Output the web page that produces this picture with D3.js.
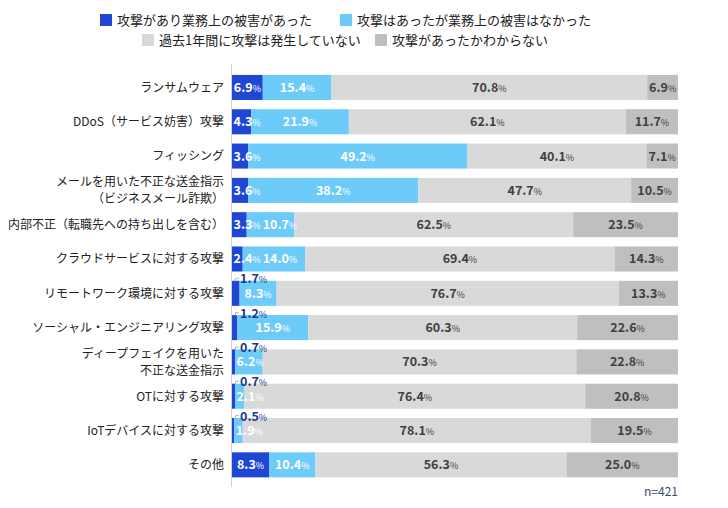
<!DOCTYPE html>
<html><head><meta charset="utf-8">
<script src="https://cdn.jsdelivr.net/npm/d3@7"></script>
<style>
body{margin:0;background:#fff;}
text{font-family:"Noto Sans CJK JP","Noto Sans",sans-serif;}
</style></head>
<body><svg id="c" width="728" height="508"></svg>
<script>
const categories = [
  ["ランサムウェア"],
  ["DDoS（サービス妨害）攻撃"],
  ["フィッシング"],
  ["メールを用いた不正な送金指示","（ビジネスメール詐欺）"],
  ["内部不正（転職先への持ち出しを含む）"],
  ["クラウドサービスに対する攻撃"],
  ["リモートワーク環境に対する攻撃"],
  ["ソーシャル・エンジニアリング攻撃"],
  ["ディープフェイクを用いた","不正な送金指示"],
  ["OTに対する攻撃"],
  ["IoTデバイスに対する攻撃"],
  ["その他"]
];
const seriesNames = ["攻撃があり業務上の被害があった","攻撃はあったが業務上の被害はなかった","過去1年間に攻撃は発生していない","攻撃があったかわからない"];
const damaged   = [6.9,4.3,3.6,3.6,3.3,2.4,1.7,1.2,0.7,0.7,0.5,8.3];
const noDamage  = [15.4,21.9,49.2,38.2,10.7,14.0,8.3,15.9,6.2,2.1,1.9,10.4];
const noAttack  = [70.8,62.1,40.1,47.7,62.5,69.4,76.7,60.3,70.3,76.4,78.1,56.3];
const unknown   = [6.9,11.7,7.1,10.5,23.5,14.3,13.3,22.6,22.8,20.8,19.5,25.0];
const sampleNote = "n=421";

const colors = ["#1f47d3","#6dcbfa","#d9d9d9","#bfbfbf"];
const labelColors = ["#ffffff","#ffffff","#404040","#404040"];
const series = [damaged,noDamage,noAttack,unknown];

const svg = d3.select("#c");
const keys = categories.map((c,i)=>i);
const y = d3.scaleBand().domain(keys).range([70.3,482]).paddingInner(0.27).paddingOuter(0.135);
const x = d3.scaleLinear().domain([0,100]).range([232,678]);

// legend
const legendPos = [[100,20],[340,20],[142,40],[375,40]];
const lg = svg.append("g");
seriesNames.forEach((n,i)=>{
  const [lx,ly] = legendPos[i];
  lg.append("rect").attr("x",lx).attr("y",ly-6).attr("width",12).attr("height",12).attr("fill",colors[i]);
  lg.append("text").attr("x",lx+17).attr("y",ly).attr("dy","0.36em").attr("font-size",13).attr("fill","#222").text(n);
});

// axis line
svg.append("line").attr("x1",x(0)-0.5).attr("x2",x(0)-0.5).attr("y1",64).attr("y2",487).attr("stroke","#d0d0d0").attr("stroke-width",1);

// category labels
const cl = svg.append("g");
categories.forEach((lines,i)=>{
  const cy = y(i)+y.bandwidth()/2;
  const t = cl.append("text").attr("text-anchor","end").attr("font-size",12).attr("fill","#222");
  const lh = 17;
  lines.forEach((ln,j)=>{
    t.append("tspan").attr("x",224).attr("y",cy + (j-(lines.length-1)/2)*lh).attr("dy","0.36em").text(ln);
  });
});

// stacks
const rows = keys.map(i=>series.map(s=>s[i]));
const g = svg.append("g");
rows.forEach((vals,i)=>{
  let acc = 0;
  const y0 = y(i), bh = y.bandwidth();
  const segs = vals.map(v=>{const s={x0:acc,x1:acc+v,v}; acc+=v; return s;});
  segs.forEach((s,k)=>{
    g.append("rect").attr("x",x(s.x0)).attr("y",y0).attr("width",Math.max(0,x(Math.min(100,s.x1))-x(s.x0))).attr("height",bh).attr("fill",colors[k]);
  });
  let prevEnd = -Infinity;
  segs.forEach((s,k)=>{
    const above = (k===0 && s.v < 2);
    const t = g.append("text").attr("font-size",12.5).attr("font-weight","bold")
      .attr("fill", above ? "#1b3a86" : labelColors[k]);
    t.append("tspan").text(s.v.toFixed(1));
    t.append("tspan").attr("font-size",9).attr("font-weight","normal").text("%");
    const w = t.node().getComputedTextLength();
    if(above){
      const tx = x(s.x0)+8;
      t.attr("x",tx).attr("y",y0+2.5);
      g.append("path").attr("d",`M${x(s.x0)+3.5},${y0+1} V${y0-2.5} H${x(s.x0)+7}`).attr("fill","none").attr("stroke","#9aa4b8").attr("stroke-width",0.8);
    } else {
      const sx0 = x(s.x0), sx1 = x(Math.min(100,s.x1));
      let tx = (sx0+sx1)/2 - w/2;
      tx = Math.max(tx, sx0+1.5, prevEnd+2);
      t.attr("x",tx).attr("y",y0+bh/2).attr("dy","0.36em");
      prevEnd = tx + w;
    }
  });
});

svg.append("text").attr("x",678).attr("y",492).attr("dy","0.36em").attr("text-anchor","end").attr("font-size",12).attr("fill","#3a4a6b").text(sampleNote);
</script></body></html>
